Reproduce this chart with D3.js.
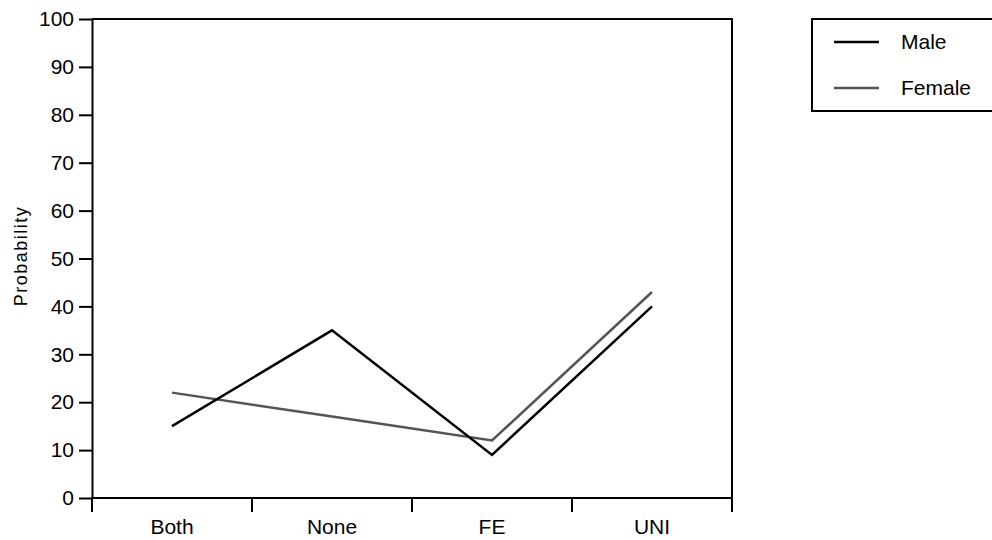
<!DOCTYPE html>
<html>
<head>
<meta charset="utf-8">
<script src="https://cdn.jsdelivr.net/npm/d3@7"></script>
<style>
  body { margin: 0; background: #fff; }
  text { font-family: "Liberation Sans", Arial, sans-serif; }
</style>
</head>
<body>
<svg width="992" height="540"></svg>
<script>
var categories = ['Both', 'None', 'FE', 'UNI'];
var male = [15, 35, 9, 40];
var female = [22, 17, 12, 43];
var yTicks = [0, 10, 20, 30, 40, 50, 60, 70, 80, 90, 100];

var series = [
  {name: 'Male', values: male, color: '#000'},
  {name: 'Female', values: female, color: '#555'}
];

var svg = d3.select('svg');

var mLeft = 92, mRight = 732, mTop = 19, mBottom = 498;

var x = d3.scaleBand()
    .domain(categories)
    .range([mLeft, mRight]);

var y = d3.scaleLinear()
    .domain([0, 100])
    .range([mBottom, mTop]);

// frame top and right
svg.append('path')
    .attr('d', 'M' + mLeft + ',' + mTop + 'H' + mRight + 'V' + mBottom)
    .attr('fill', 'none')
    .attr('stroke', '#000')
    .attr('stroke-width', 2);

// y axis
var yAxis = svg.append('g')
    .attr('transform', 'translate(' + mLeft + ',0)')
    .call(d3.axisLeft(y).tickValues(yTicks).tickSize(13).tickPadding(5).tickSizeOuter(0));
yAxis.select('.domain').attr('stroke-width', 2);
yAxis.selectAll('.tick line').attr('stroke-width', 2);
yAxis.selectAll('.tick text')
    .attr('font-size', 21)
    .attr('font-family', '"Liberation Sans", Arial, sans-serif')
    .attr('fill', '#000');

// x axis, ticks on band edges
var xAxis = svg.append('g')
    .attr('transform', 'translate(0,' + mBottom + ')');
xAxis.append('line')
    .attr('x1', mLeft).attr('x2', mRight)
    .attr('stroke', '#000').attr('stroke-width', 2);
var edges = categories.map(function(c) { return x(c); }).concat([mRight]);
xAxis.selectAll('.edge')
    .data(edges)
    .enter().append('line')
    .attr('class', 'edge')
    .attr('x1', function(d) { return d; })
    .attr('x2', function(d) { return d; })
    .attr('y1', -1).attr('y2', 14)
    .attr('stroke', '#000').attr('stroke-width', 2);
xAxis.selectAll('.lab')
    .data(categories)
    .enter().append('text')
    .attr('class', 'lab')
    .attr('x', function(d) { return x(d) + x.bandwidth() / 2; })
    .attr('y', 36)
    .attr('text-anchor', 'middle')
    .attr('font-size', 21)
    .text(function(d) { return d; });

// y label
svg.append('text')
    .attr('transform', 'translate(27,256) rotate(-90)')
    .attr('text-anchor', 'middle')
    .attr('font-size', 18)
    .attr('letter-spacing', 1.5)
    .attr('font-family', '"Liberation Sans Narrow", "DejaVu Sans Condensed", sans-serif')
    .text('Probability');

// lines
var line = d3.line()
    .x(function(d, i) { return x(categories[i]) + x.bandwidth() / 2; })
    .y(function(d) { return y(d); });

svg.selectAll('.series')
    .data(series.slice().reverse())
    .enter().append('path')
    .attr('class', 'series')
    .attr('d', function(d) { return line(d.values); })
    .attr('fill', 'none')
    .attr('stroke', function(d) { return d.color; })
    .attr('stroke-width', 2.5);

// legend
var lg = svg.append('g');
lg.append('rect')
    .attr('x', 812).attr('y', 19)
    .attr('width', 190).attr('height', 92)
    .attr('fill', 'none')
    .attr('stroke', '#000').attr('stroke-width', 2);
var items = lg.selectAll('.item')
    .data(series)
    .enter().append('g')
    .attr('transform', function(d, i) { return 'translate(0,' + (42 + i * 46) + ')'; });
items.append('line')
    .attr('x1', 834).attr('x2', 879)
    .attr('stroke', function(d) { return d.color; })
    .attr('stroke-width', 2.5);
items.append('text')
    .attr('x', 901).attr('y', 7)
    .attr('font-size', 21)
    .text(function(d) { return d.name; });
</script>
</body>
</html>
